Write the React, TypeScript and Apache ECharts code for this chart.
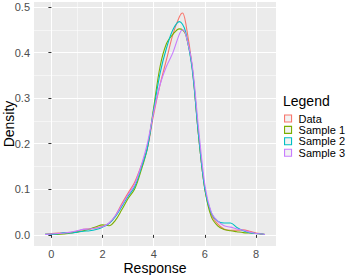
import React, { useEffect, useRef } from "react";
import * as echarts from "echarts";

const xs = [-0.25, 0, 0.25, 0.5, 0.75, 1.0, 1.25, 1.5, 1.75, 2.0, 2.25, 2.5, 2.75, 3.0, 3.25, 3.5, 3.75, 4.0, 4.25, 4.5, 4.75, 5.0, 5.125, 5.25, 5.5, 5.75, 6.0, 6.25, 6.5, 6.75, 7.0, 7.25, 7.5, 7.75, 8.0, 8.25, 8.35];

const dataY = [0.001, 0.003, 0.004, 0.004, 0.005, 0.008, 0.012, 0.013, 0.015, 0.019, 0.025, 0.042, 0.068, 0.092, 0.115, 0.15, 0.19, 0.265, 0.33, 0.385, 0.44, 0.478, 0.487, 0.465, 0.37, 0.22, 0.1, 0.045, 0.024, 0.013, 0.01, 0.01, 0.011, 0.008, 0.004, 0.002, 0.001];
const sample1Y = [0.001, 0.001, 0.001, 0.002, 0.004, 0.006, 0.009, 0.013, 0.018, 0.022, 0.02, 0.032, 0.055, 0.08, 0.1, 0.14, 0.19, 0.28, 0.37, 0.42, 0.44, 0.452, 0.45, 0.44, 0.37, 0.22, 0.1, 0.04, 0.02, 0.012, 0.009, 0.007, 0.005, 0.004, 0.003, 0.002, 0.001];
const sample2Y = [0.001, 0.001, 0.002, 0.005, 0.004, 0.006, 0.008, 0.009, 0.012, 0.017, 0.025, 0.04, 0.062, 0.085, 0.105, 0.145, 0.19, 0.275, 0.355, 0.41, 0.45, 0.468, 0.462, 0.445, 0.365, 0.22, 0.1, 0.048, 0.03, 0.026, 0.026, 0.016, 0.009, 0.005, 0.003, 0.002, 0.001];
const sample3Y = [0.001, 0.002, 0.003, 0.004, 0.006, 0.009, 0.012, 0.013, 0.015, 0.018, 0.026, 0.042, 0.065, 0.088, 0.11, 0.15, 0.2, 0.27, 0.33, 0.37, 0.4, 0.44, 0.45, 0.44, 0.375, 0.235, 0.11, 0.05, 0.03, 0.02, 0.017, 0.013, 0.01, 0.006, 0.003, 0.002, 0.001];

const seriesNames = ["Data", "Sample 1", "Sample 2", "Sample 3"];
const seriesValues = [dataY, sample1Y, sample2Y, sample3Y];
const colors = ["#F8766D", "#7CAE00", "#00BFC4", "#C77CFF"];

const xMajor = [0, 2, 4, 6, 8];
const xMinor = [1, 3, 5, 7];
const yMajor = [0, 0.1, 0.2, 0.3, 0.4, 0.5];
const yMinor = [0.05, 0.15, 0.25, 0.35, 0.45];

const xTitle = "Response";
const yTitle = "Density";
const legendTitle = "Legend";

const FONT = "Liberation Sans";

export default function App() {
  const ref = useRef<HTMLDivElement>(null);
  useEffect(() => {
    if (!ref.current) return;
    const chart = echarts.init(ref.current, undefined, { renderer: "svg" });
    const xRange = { min: -0.68, max: 8.78 };
    const yRange = { min: -0.0244, max: 0.511 };
    chart.setOption({
      animation: false,
      textStyle: { fontFamily: FONT },
      grid: {
        left: 34,
        right: 78,
        top: 2,
        bottom: 29,
        show: true,
        containLabel: false,
        outerBoundsMode: "none",
        backgroundColor: "#EBEBEB",
        borderWidth: 0,
      },
      graphic: [
        {
          type: "text",
          x: 155,
          y: 267.5,
          style: { text: xTitle, fontFamily: FONT, fontSize: 14, fill: "#000", align: "center", verticalAlign: "middle" },
        },
        {
          type: "text",
          x: 9,
          y: 124,
          rotation: Math.PI / 2,
          style: { text: yTitle, fontFamily: FONT, fontSize: 14, fill: "#000", align: "center", verticalAlign: "middle" },
        },
        {
          type: "text",
          x: 283,
          y: 101,
          style: { text: legendTitle, fontFamily: FONT, fontSize: 14, fill: "#000", align: "left", verticalAlign: "middle" },
        },
      ],
      legend: {
        left: 284,
        top: 113,
        orient: "vertical",
        padding: 0,
        itemWidth: 7,
        itemHeight: 7,
        itemGap: 0.4,
        icon: "rect",
        textStyle: { fontFamily: FONT, fontSize: 11, color: "#000", lineHeight: 10, padding: [0, 0, 0, 2] },
        data: seriesNames.map((n, i) => ({
          name: n,
          itemStyle: { color: "#F2F2F2", borderColor: colors[i], borderWidth: 1.1 },
        })),
      },
      xAxis: [
        {
          type: "value",
          ...xRange,
          axisLine: { show: false },
          axisTick: { show: true, length: 3, customValues: xMajor, lineStyle: { color: "#333333", width: 1 } },
          axisLabel: { customValues: xMajor, color: "#4D4D4D", fontSize: 11, margin: 2, fontFamily: FONT },
          splitLine: { show: true, lineStyle: { color: "#FFFFFF", width: 1.1 } },
          z: 1,
        },
        {
          type: "value",
          ...xRange,
          axisLine: { show: false },
          axisTick: { show: false, customValues: xMinor },
          axisLabel: { show: false, customValues: xMinor },
          splitLine: { show: true, lineStyle: { color: "#FFFFFF", width: 0.5 } },
          z: 0,
        },
      ],
      yAxis: [
        {
          type: "value",
          ...yRange,
          axisLine: { show: false },
          axisTick: { show: true, length: 3, customValues: yMajor, lineStyle: { color: "#333333", width: 1 } },
          axisLabel: {
            customValues: yMajor,
            color: "#4D4D4D",
            fontSize: 11,
            margin: 4,
            fontFamily: FONT,
            formatter: (v: number) => v.toFixed(1),
          },
          splitLine: { show: true, lineStyle: { color: "#FFFFFF", width: 1.1 } },
          z: 1,
        },
        {
          type: "value",
          ...yRange,
          position: "left",
          axisLine: { show: false },
          axisTick: { show: false, customValues: yMinor },
          axisLabel: { show: false, customValues: yMinor },
          splitLine: { show: true, lineStyle: { color: "#FFFFFF", width: 0.5 } },
          z: 0,
        },
      ],
      series: seriesNames.map((n, i) => ({
        name: n,
        type: "line",
        xAxisIndex: 0,
        yAxisIndex: 0,
        showSymbol: false,
        smooth: 0.35,
        color: colors[i],
        lineStyle: { color: colors[i], width: 1.1 },
        data: xs.map((x, j) => [x, seriesValues[i][j]]),
        z: 2 + i,
      })),
    });
    return () => chart.dispose();
  }, []);
  return <div ref={ref} style={{ position: "absolute", left: 0, top: 0, width: 354, height: 275 }} />;
}
